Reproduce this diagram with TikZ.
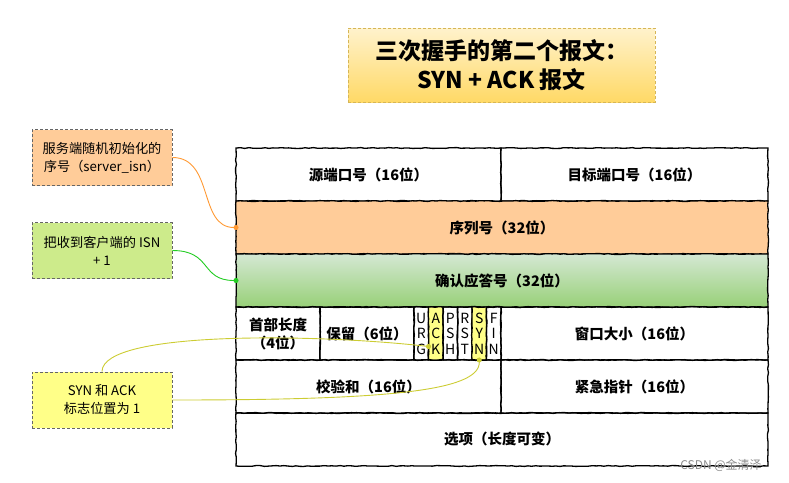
\documentclass[tikz,border=0pt]{standalone}
\usepackage{fontspec}
\setmainfont{Noto Sans CJK SC}
\usetikzlibrary{positioning,arrows.meta,decorations.pathmorphing}

\definecolor{noteorange}{HTML}{FFCC99}
\definecolor{notegreen}{HTML}{CDEB8B}
\definecolor{noteyellow}{HTML}{FFFF88}
\definecolor{titletop}{HTML}{FFF2CC}
\definecolor{titlebot}{HTML}{FFD966}
\definecolor{titleline}{HTML}{D6B656}
\definecolor{acktop}{HTML}{D5E8D4}
\definecolor{ackbot}{HTML}{97D077}
\definecolor{linkorange}{HTML}{FF9933}
\definecolor{linkgreen}{HTML}{22CC22}
\definecolor{linkyellow}{HTML}{CCCC33}

\tikzset{
  sketchy/.style={decorate,decoration={random steps,segment length=4pt,amplitude=0.45pt}},
  cell/.style={draw,sketchy,line width=1.3pt,anchor=north west,inner sep=0pt,outer sep=0pt,
    minimum height=53pt,align=center,font=\bfseries\fontsize{14.5}{18}\selectfont},
  flag/.style={cell,minimum width=14.5pt,font=\fontsize{14}{15.5}\selectfont},
  note/.style={draw=black!60,densely dashed,line width=0.7pt,minimum width=140pt,
    minimum height=56pt,align=center,inner sep=2pt,font=\fontsize{13.2}{18}\selectfont},
  link/.style={line width=0.9pt,-{Circle[length=5pt]},shorten >=-2.5pt}
}

\begin{document}
\pgfmathsetseed{7}
\begin{tikzpicture}[x=1pt,y=-1pt]
  \useasboundingbox (0,0) rectangle (789,482);

  % title
  \node[draw=titleline,densely dashed,line width=1pt,top color=titletop,bottom color=titlebot,
    minimum width=307pt,minimum height=74pt,align=center,
    font=\bfseries\fontsize{23}{29}\selectfont] (title) at (501.5,65)
    {三次握手的第二个报文：\\SYN + ACK 报文};

  % header rows
  \node[cell,minimum width=265pt] (srcport) at (236,148) {源端口号（16位）};
  \node[cell,minimum width=267pt] (dstport) at (501,148) {目标端口号（16位）};
  \node[cell,minimum width=532pt,fill=noteorange] (seq) at (236,201) {序列号（32位）};
  \node[cell,minimum width=532pt,top color=acktop,bottom color=ackbot] (ackno) at (236,254) {确认应答号（32位）};

  \node[cell,minimum width=84pt] (hdrlen) at (236,307) {首部长度\\（4位）};
  \node[cell,minimum width=94pt] (rsvd) at (320,307) {保留（6位）};
  \node[flag] (fU) at (414,307) {U\\R\\G};
  \node[flag,fill=noteyellow] (fA) at (428.5,307) {A\\C\\K};
  \node[flag] (fP) at (443,307) {P\\S\\H};
  \node[flag] (fR) at (457.5,307) {R\\S\\T};
  \node[flag,fill=noteyellow] (fS) at (472,307) {S\\Y\\N};
  \node[flag] (fF) at (486.5,307) {F\\I\\N};
  \node[cell,minimum width=267pt] (window) at (501,307) {窗口大小（16位）};

  \node[cell,minimum width=265pt] (checksum) at (236,360) {校验和（16位）};
  \node[cell,minimum width=267pt] (urgent) at (501,360) {紧急指针（16位）};
  \node[cell,minimum width=532pt] (options) at (236,413) {选项（长度可变）};

  % notes
  \node[note,fill=noteorange] (srvnote) at (102,157.5) {服务端随机初始化的\\序号（server\_isn）};
  \node[note,fill=notegreen] (isnnote) at (102,250.5) {把收到客户端的 ISN\\+ 1};
  \node[note,fill=noteyellow] (flagnote) at (102,400) {SYN 和 ACK\\标志位置为 1};

  \coordinate (ackpt) at ([yshift=-13pt]fA.west);

  \draw[link,linkorange] (srvnote.east) .. controls +(42,0) and +(-38,0) .. (seq.west);
  \draw[link,linkgreen] (isnnote.east) .. controls +(40,0) and +(-36,0) .. (ackno.west);
  \draw[link,linkyellow] (flagnote.north) .. controls (102,330) and (320,334) .. (ackpt);
  \draw[link,linkyellow] (flagnote.east) .. controls (380,400) and (480,392) .. (fS.south);

  \node[text=black!45,font=\fontsize{12}{14}\selectfont] (mark) at (721,465) {CSDN @金清泽};
\end{tikzpicture}
\end{document}
